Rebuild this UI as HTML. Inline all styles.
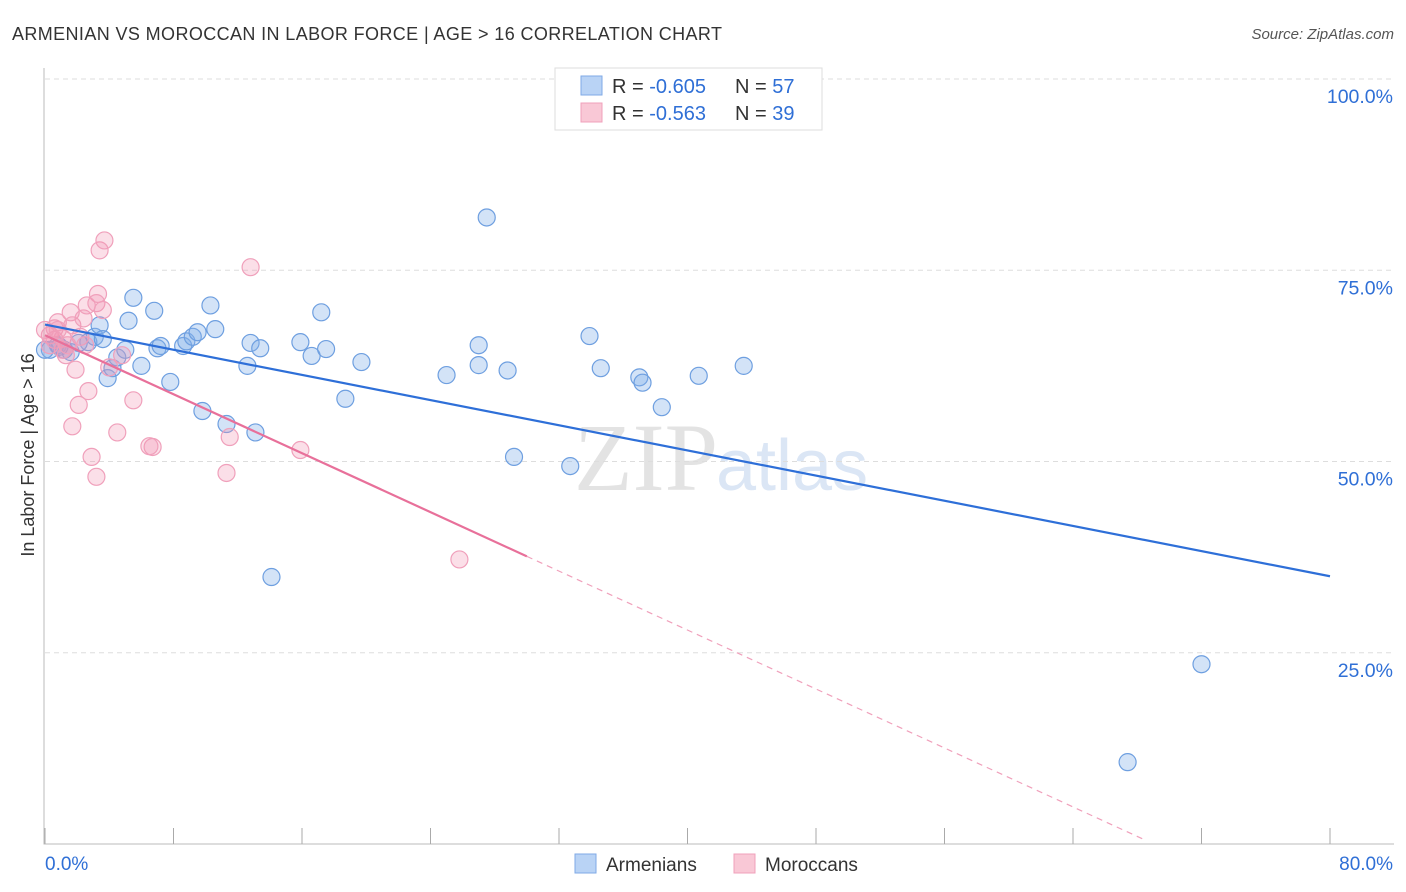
<!DOCTYPE html>
<html><head><meta charset="utf-8"><style>
body{margin:0;background:#fff;font-family:"Liberation Sans",sans-serif}
svg{display:block}
</style></head><body>
<svg id="c" width="1406" height="892" xmlns="http://www.w3.org/2000/svg">
<text x="12" y="40" font-size="18" fill="#333" textLength="710" lengthAdjust="spacing">ARMENIAN VS MOROCCAN IN LABOR FORCE | AGE &gt; 16 CORRELATION CHART</text>
<text x="1394" y="39" font-size="15" fill="#555" font-style="italic" text-anchor="end">Source: ZipAtlas.com</text>
<text x="718" y="490" font-size="96" fill="#e3e3e3" text-anchor="end" font-family="Liberation Serif">ZIP</text>
<text x="716" y="490" font-size="72" fill="#dbe6f5">atlas</text>
<text x="34" y="455" font-size="18" fill="#333" text-anchor="middle" transform="rotate(-90 34 455)">In Labor Force | Age &gt; 16</text>
<g id="grid"></g><g id="marks"></g>
<g>
<rect x="555" y="68" width="267" height="62" fill="#fff" stroke="#ddd"/>
<rect x="581" y="76" width="21" height="19" fill="#b9d3f5" stroke="#7fa9e6"/>
<rect x="581" y="103" width="21" height="19" fill="#f9c8d6" stroke="#f0a0bb"/>
<text x="612" y="93" font-size="20" fill="#333">R = <tspan fill="#2f6fd6">-0.605</tspan><tspan x="735">N = </tspan><tspan fill="#2f6fd6">57</tspan></text>
<text x="612" y="120" font-size="20" fill="#333">R = <tspan fill="#2f6fd6"> -0.563</tspan><tspan x="735">N = </tspan><tspan fill="#2f6fd6">39</tspan></text>
</g>
<g>
<rect x="575" y="854" width="21" height="19" fill="#b9d3f5" stroke="#7fa9e6"/>
<text x="606" y="871" font-size="19" fill="#333">Armenians</text>
<rect x="734" y="854" width="21" height="19" fill="#f9c8d6" stroke="#f0a0bb"/>
<text x="765" y="871" font-size="19" fill="#333">Moroccans</text>
</g>
</svg>
<script>
const yTicks=[100,75,50,25];
const yTickLabels=["100.0%","75.0%","50.0%","25.0%"];
const armX=[0.3,0.8,1.2,1.6,2.7,3.1,3.4,3.9,4.2,4.5,5.0,5.2,5.5,6.0,6.8,7.0,7.2,7.8,8.6,8.8,9.2,9.5,9.8,10.3,10.6,11.3,12.6,12.8,13.1,13.4,14.1,15.9,16.6,17.2,17.5,18.7,19.7,25.0,27.0,27.0,27.5,28.8,29.2,32.7,33.9,34.6,37.0,37.2,38.4,40.7,43.5,67.4,72.0,0,0.9,2.1,3.6];
const armY=[64.6,65.2,64.6,64.3,65.6,66.3,67.8,60.9,62.2,63.6,64.6,68.4,71.4,62.5,69.7,64.8,65.1,60.4,65.1,65.7,66.3,66.9,56.6,70.4,67.3,54.9,62.5,65.5,53.8,64.8,34.9,65.6,63.8,69.5,64.7,58.2,63.0,61.3,65.2,62.6,81.9,61.9,50.6,49.4,66.4,62.2,61.0,60.3,57.1,61.2,62.5,10.7,23.5,64.6,65.0,65.5,66.0];
const morX=[0.3,0.6,0.8,1.1,1.3,1.6,1.7,1.9,2.1,2.2,1.7,2.4,2.6,2.7,2.9,3.2,3.3,3.4,3.2,3.6,3.7,4.0,4.5,4.8,5.5,6.7,11.3,11.5,12.8,15.9,25.8,0.6,1.1,1.4,2.5,0,0.3,0.8,6.5];
const morY=[66.5,67.4,68.2,66.1,63.9,69.5,67.8,62.0,57.4,66.3,54.6,68.7,70.4,59.2,50.6,48.0,71.9,77.6,70.7,69.8,78.9,62.3,53.8,63.9,58.0,51.9,48.5,53.2,75.4,51.5,37.2,65.9,64.6,65.2,65.2,67.2,65.2,67.2,52.0];
const armTrend=[67.9,35.0];
const morTrend=[66.5,37.6,30];
const NS="http://www.w3.org/2000/svg";
const X=v=>45+v/80*1285, Y=v=>844-v/100*765;
function mk(t,a,p){const e=document.createElementNS(NS,t);for(const k in a)e.setAttribute(k,a[k]);p.appendChild(e);return e;}
const g=document.getElementById('grid'),m=document.getElementById('marks');
yTicks.forEach((t,i)=>{
 const l=mk('line',{x1:45,x2:1394,y1:Y(t),y2:Y(t),stroke:'#ddd','stroke-dasharray':'5,4'},g);
 
 
 const tx=mk('text',{x:1393,y:Y(t)+24,'font-size':19.5,fill:'#2f6fd6','text-anchor':'end'},g);
 tx.textContent=yTickLabels[i];
 
 
});
const ax=mk('path',{d:'M44 68V844H1394',stroke:'#bbb',fill:'none'},g);


for(let i=0;i<=10;i++){const t=mk('line',{x1:X(i*8),x2:X(i*8),y1:828,y2:844,stroke:'#aaa'},g);
 
 }
const x0=mk('text',{x:45,y:870,'font-size':19,fill:'#2f6fd6'},g);x0.textContent='0.0%';


const x1=mk('text',{x:1393,y:870,'font-size':19,fill:'#2f6fd6','text-anchor':'end'},g);x1.textContent='80.0%';


armX.forEach((v,i)=>{const c=mk('circle',{cx:X(v),cy:Y(armY[i]),r:8.5,fill:'rgba(130,175,232,0.35)',stroke:'#6e9fe0','stroke-width':1.2},m);
 
 });
morX.forEach((v,i)=>{const c=mk('circle',{cx:X(v),cy:Y(morY[i]),r:8.5,fill:'rgba(242,150,180,0.3)',stroke:'#f0a0bb','stroke-width':1.2},m);
 
 });
const bt=mk('line',{x1:X(0),y1:Y(armTrend[0]),x2:X(80),y2:Y(armTrend[1]),stroke:'#2e6fd8','stroke-width':2.2},m);


const yAt=x=>morTrend[0]-(morTrend[0]-morTrend[1])*x/morTrend[2];
const xZero=Math.min(80,morTrend[0]/((morTrend[0]-morTrend[1])/morTrend[2]))-0.6;
const pt=mk('line',{x1:X(0),y1:Y(morTrend[0]),x2:X(morTrend[2]),y2:Y(yAt(morTrend[2])),stroke:'#e8709a','stroke-width':2.2},m);


const pd=mk('line',{x1:X(morTrend[2]),y1:Y(yAt(morTrend[2])),x2:X(xZero),y2:Y(yAt(xZero)),stroke:'#f0a0bb','stroke-width':1.2,'stroke-dasharray':'6,5'},m);


</script>
</body></html>
